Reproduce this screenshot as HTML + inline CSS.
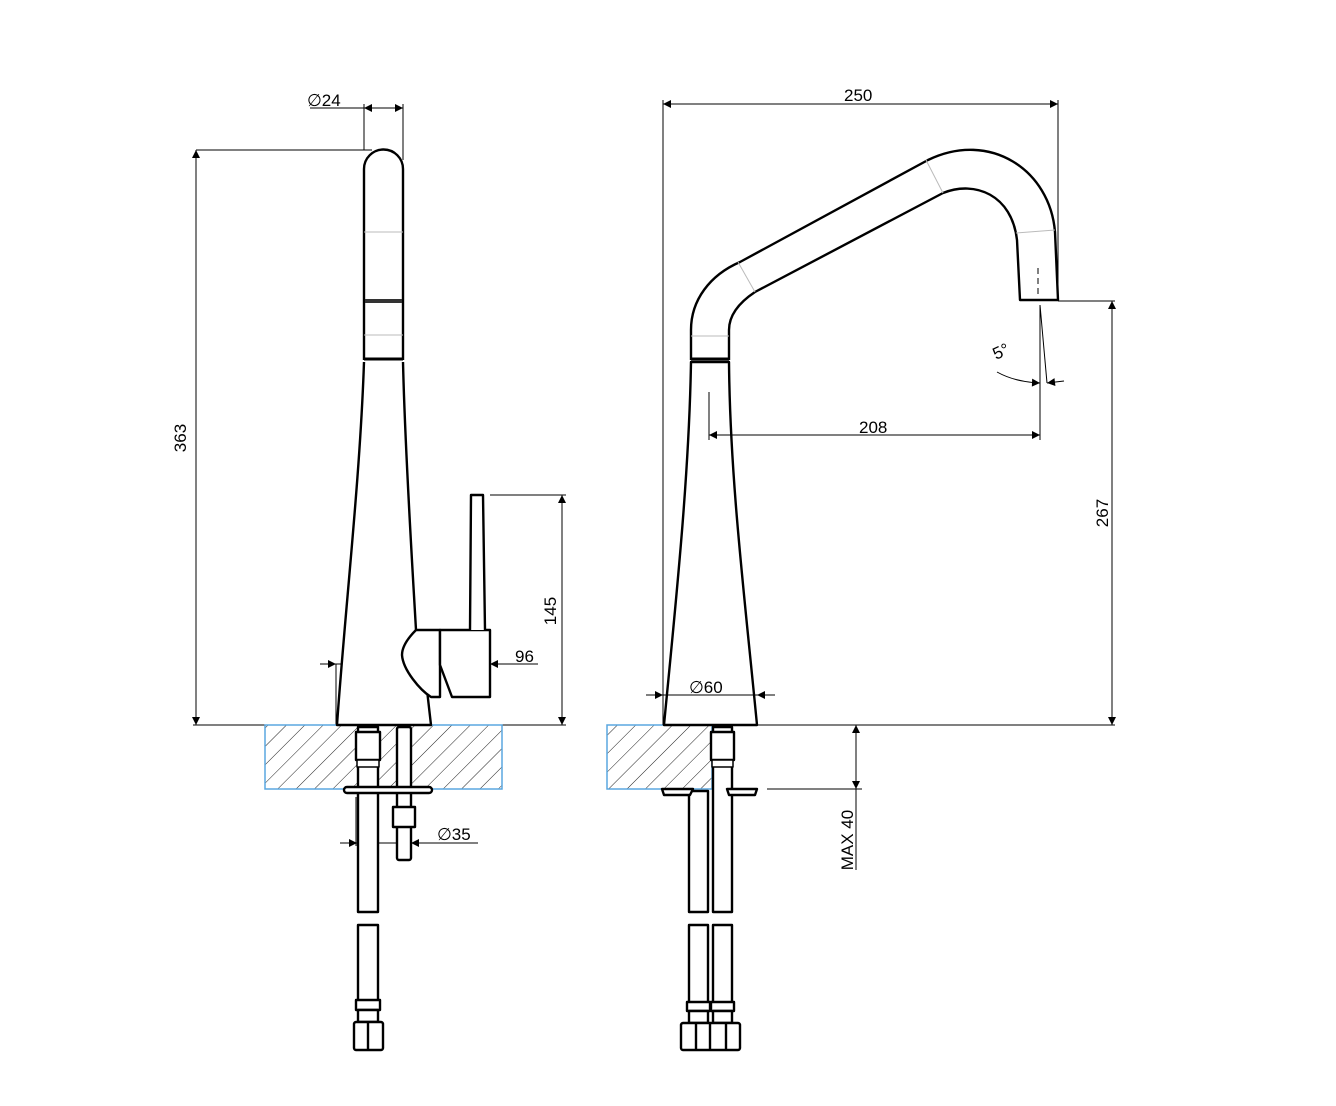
<!DOCTYPE html>
<html><head><meta charset="utf-8"><style>
html,body{margin:0;padding:0;background:#fff;}
svg{display:block;font-family:"Liberation Sans","DejaVu Sans",sans-serif;}
</style></head><body>
<svg width="1336" height="1106" viewBox="0 0 1336 1106" xmlns="http://www.w3.org/2000/svg">
<defs>
<pattern id="h" patternUnits="userSpaceOnUse" width="13" height="13" patternTransform="rotate(45)">
<line x1="0" y1="0" x2="0" y2="13" stroke="#222" stroke-width="1"/>
</pattern>
<marker id="a" viewBox="0 0 10 10" refX="10" refY="5" markerWidth="16" markerHeight="8" orient="auto-start-reverse" markerUnits="userSpaceOnUse">
<path d="M0,0 L10,5 L0,10 z" fill="#000"/>
</marker>
</defs>
<g fill="none" stroke="#000" stroke-width="1">
<line x1="196" y1="150" x2="372" y2="150"/>
<line x1="196" y1="150" x2="196" y2="725" marker-start="url(#a)" marker-end="url(#a)"/>
<line x1="193" y1="725" x2="337" y2="725"/>
<line x1="430" y1="725" x2="566" y2="725"/>
<line x1="490" y1="495" x2="566" y2="495"/>
<line x1="562" y1="495" x2="562" y2="725" marker-start="url(#a)" marker-end="url(#a)"/>
<line x1="320" y1="664" x2="336" y2="664" marker-end="url(#a)"/>
<line x1="336" y1="664" x2="538" y2="664"/>
<line x1="538" y1="664" x2="490" y2="664" marker-end="url(#a)"/>
<line x1="336" y1="664" x2="336" y2="725"/>
<line x1="310" y1="108" x2="403" y2="108"/>
<line x1="384" y1="108" x2="364" y2="108" marker-end="url(#a)"/>
<line x1="384" y1="108" x2="403" y2="108" marker-end="url(#a)"/>
<line x1="364" y1="104" x2="364" y2="150"/>
<line x1="403" y1="104" x2="403" y2="160"/>
<line x1="340" y1="843" x2="357" y2="843" marker-end="url(#a)"/>
<line x1="357" y1="843" x2="478" y2="843"/>
<line x1="428" y1="843" x2="411" y2="843" marker-end="url(#a)"/>
<line x1="356" y1="797" x2="356" y2="846"/>
</g>
<rect x="265" y="725" width="237" height="64" fill="url(#h)" stroke="#5aa7e0" stroke-width="1.5"/>
<rect x="607" y="725" width="105" height="64" fill="url(#h)" stroke="#5aa7e0" stroke-width="1.5"/>
<g fill="#fff" stroke="#000" stroke-width="2.4" stroke-linejoin="round">
<path d="M364,360 L364,169 A19.5,19.5 0 0 1 403,169 L403,360"/>
<line x1="364" y1="359" x2="403" y2="359" stroke-width="3"/>
<path d="M364,362 C360,480 345,610 337,725 L431,725 L427,690"/>
<path d="M403,362 C405,450 412,560 416,630"/>
<path d="M416,630 L440,630 L440,697 L431,697 C420,690 403,670 402,655 C402,645 410,636 416,630 Z"/>
<path d="M440,630 L490,630 L490,697 L452,697 L440,665 Z"/>
<path d="M470,630 L471,495 L483,495 L485,630"/>
<line x1="364" y1="232" x2="403" y2="232" stroke="#bbb" stroke-width="1"/>
<line x1="364" y1="335" x2="403" y2="335" stroke="#bbb" stroke-width="1"/>
<rect x="365" y="299" width="37" height="4" fill="#333" stroke="none"/>
<rect x="358" y="727" width="20" height="185"/>
<rect x="356" y="732" width="24" height="28"/>
<rect x="357" y="760" width="22" height="7" stroke-width="1.5"/>
<rect x="397" y="727" width="14" height="133" rx="2"/>
<rect x="393" y="807" width="22" height="20"/>
<rect x="344" y="787" width="88" height="6" rx="3"/>
<rect x="358" y="925" width="20" height="80"/>
<rect x="356" y="1000" width="24" height="10"/>
<rect x="358" y="1010" width="20" height="12"/>
<rect x="354" y="1022" width="29" height="28" rx="2"/>
<line x1="368" y1="1022" x2="368" y2="1050"/>
<path d="M691,360 L691,330 C691,300 710,275 740,262 L928,160 C990,130 1050,170 1055,232 L1058,300 L1020,300 L1017,240 C1012,195 975,180 943,193 L755,292 C740,302 729,315 729,330 L729,360"/>
<path d="M691,362 C689,480 675,610 664,725 L757,725 C745,600 730,480 729,362 Z"/>
<line x1="691" y1="359" x2="729" y2="359" stroke-width="3"/>
<line x1="691" y1="336" x2="729" y2="336" stroke="#bbb" stroke-width="1"/>
<line x1="738" y1="262" x2="755" y2="292" stroke="#bbb" stroke-width="1"/>
<line x1="926" y1="160" x2="943" y2="193" stroke="#bbb" stroke-width="1"/>
<line x1="1016" y1="233" x2="1055" y2="230" stroke="#bbb" stroke-width="1"/>
<rect x="689" y="791" width="19" height="121"/>
<rect x="713" y="727" width="19" height="185"/>
<rect x="711" y="732" width="23" height="28"/>
<rect x="712" y="760" width="21" height="7" stroke-width="1.5"/>
<path d="M662,789 L693,789 L690,795 L664,795 Z"/>
<path d="M727,789 L757,789 L755,795 L729,795 Z"/>
<rect x="689" y="925" width="19" height="80"/>
<rect x="713" y="925" width="19" height="80"/>
<rect x="687" y="1002" width="23" height="9"/>
<rect x="711" y="1002" width="23" height="9"/>
<rect x="689" y="1011" width="19" height="12"/>
<rect x="713" y="1011" width="19" height="12"/>
<rect x="681" y="1023" width="59" height="27" rx="2"/>
<line x1="696" y1="1023" x2="696" y2="1050"/>
<line x1="710" y1="1023" x2="710" y2="1050"/>
<line x1="726" y1="1023" x2="726" y2="1050"/>
</g>
<g fill="none" stroke="#000" stroke-width="1">
<line x1="663" y1="104" x2="1058" y2="104" marker-start="url(#a)" marker-end="url(#a)"/>
<line x1="663" y1="100" x2="663" y2="725"/>
<line x1="1058" y1="100" x2="1058" y2="300"/>
<line x1="1058" y1="301" x2="1115" y2="301"/>
<line x1="1112" y1="301" x2="1112" y2="725" marker-start="url(#a)" marker-end="url(#a)"/>
<line x1="757" y1="725" x2="1115" y2="725"/>
<line x1="709" y1="435" x2="1040" y2="435" marker-start="url(#a)" marker-end="url(#a)"/>
<line x1="709" y1="392" x2="709" y2="440"/>
<line x1="1040" y1="305" x2="1040" y2="440"/>
<line x1="1040" y1="305" x2="1047" y2="383"/>
<line x1="1038" y1="268" x2="1038" y2="298" stroke-dasharray="6,4"/>
<path d="M997,372 Q1015,382 1040,383" marker-end="url(#a)"/>
<line x1="1064" y1="381" x2="1047" y2="383" marker-end="url(#a)"/>
<line x1="646" y1="695" x2="663" y2="695" marker-end="url(#a)"/>
<line x1="663" y1="695" x2="775" y2="695"/>
<line x1="775" y1="695" x2="757" y2="695" marker-end="url(#a)"/>
<line x1="767" y1="789" x2="862" y2="789"/>
<line x1="856" y1="725" x2="856" y2="789" marker-start="url(#a)" marker-end="url(#a)"/>
<line x1="856" y1="789" x2="856" y2="870"/>
</g>
<g font-size="17" fill="#000">
<text x="186" y="438" transform="rotate(-90 186 438)" text-anchor="middle">363</text>
<text x="556" y="611" transform="rotate(-90 556 611)" text-anchor="middle">145</text>
<text x="515" y="662">96</text>
<text x="307" y="106">∅24</text>
<text x="437" y="840">∅35</text>
<text x="844" y="101">250</text>
<text x="859" y="433">208</text>
<text x="1108" y="513" transform="rotate(-90 1108 513)" text-anchor="middle">267</text>
<text x="689" y="693">∅60</text>
<text x="853" y="840" transform="rotate(-90 853 840)" text-anchor="middle">MAX 40</text>
<text x="996" y="360" transform="rotate(-25 996 360)">5°</text>
</g>
</svg>
</body></html>
